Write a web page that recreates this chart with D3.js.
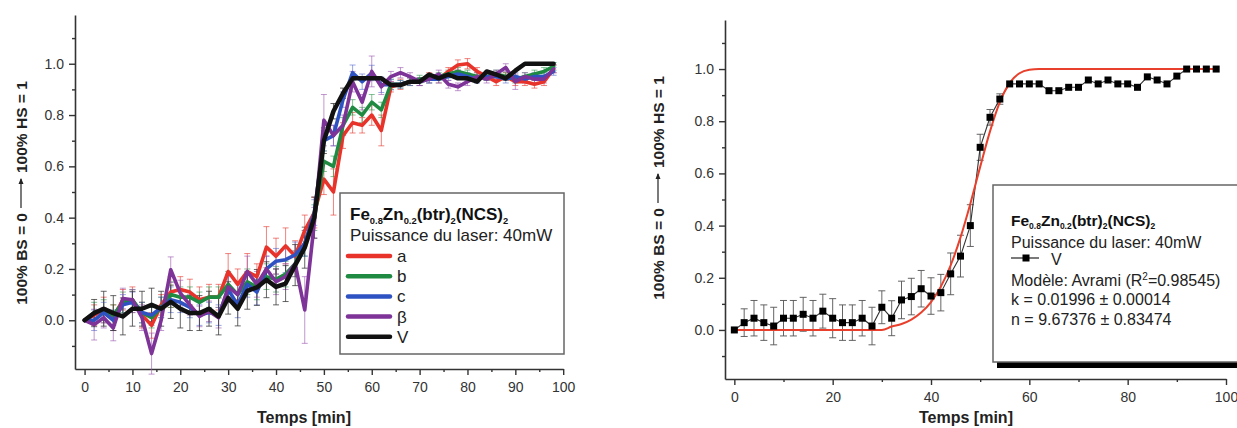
<!DOCTYPE html>
<html><head><meta charset="utf-8">
<script src="https://cdn.jsdelivr.net/npm/d3@7"></script>
<style>
body{margin:0;background:#fff}
svg{display:block}
text{font-family:"Liberation Sans",Arial,Helvetica,sans-serif}
</style>
</head><body>
<svg id="c" width="1237" height="428"></svg>
<script>
// ---------- DATA ----------
const time = [0,2,4,6,8,10,12,14,16,18,20,22,24,26,28,30,32,34,36,38,40,42,44,46,48,50,52,54,56,58,60,62,64,66,68,70,72,74,76,78,80,82,84,86,88,90,92,94,96,98];

const serA = [0,0.02,0.04,0.01,0.08,0.08,0.02,-0.02,0.06,0.11, 0.12,0.11,0.08,0.09,0.09,0.19,0.14,0.19,0.17,0.285, 0.25,0.29,0.25,0.35,0.42,0.55,0.50,0.72,0.77,0.76, 0.80,0.74,0.91,0.92,0.93,0.93,0.95,0.94,0.97,0.995, 1.0,0.97,0.95,0.93,0.95,0.93,0.93,0.92,0.93,0.98];
const serB = [0,0.03,0.04,0.02,0.07,0.08,0.03,0.01,0.05,0.10, 0.09,0.09,0.07,0.09,0.09,0.14,0.10,0.15,0.13,0.17, 0.16,0.18,0.22,0.30,0.40,0.62,0.60,0.76,0.83,0.80, 0.85,0.82,0.92,0.92,0.93,0.94,0.94,0.95,0.96,0.97, 0.96,0.95,0.95,0.96,0.95,0.94,0.95,0.96,0.97,0.99];
const serC = [0,0.0,0.03,0.0,0.06,0.07,0.03,0.02,0.05,0.08, 0.07,0.05,0.02,0.03,0.02,0.12,0.06,0.14,0.11,0.20, 0.23,0.236,0.255,0.30,0.42,0.70,0.72,0.86,0.965,0.93, 0.964,0.918,0.918,0.92,0.93,0.93,0.94,0.94,0.95,0.96, 0.95,0.94,0.95,0.95,0.94,0.95,0.94,0.95,0.95,0.97];
const serBeta = [0,-0.017,0.01,-0.03,0.085,0.08,0.01,-0.13,0.0,0.197, 0.106,0.06,0.015,0.035,0.01,0.13,0.10,0.19,0.14,0.20, 0.15,0.17,0.22,0.04,0.38,0.78,0.72,0.76,0.93,0.85, 0.97,0.91,0.95,0.965,0.95,0.93,0.94,0.96,0.92,0.91, 0.93,0.95,0.94,0.96,0.985,0.93,0.95,0.94,0.94,0.98];
const serV = [0,0.028,0.045,0.028,0.015,0.045,0.045,0.06,0.045,0.072, 0.045,0.028,0.028,0.045,0.015,0.087,0.045,0.115,0.128,0.158, 0.13,0.143,0.215,0.283,0.40,0.70,0.815,0.885,0.943,0.943, 0.943,0.943,0.917,0.917,0.93,0.93,0.958,0.943,0.958,0.943, 0.943,0.93,0.97,0.958,0.943,0.973,1.0,1.0,1.0,1.0];

const errA = [0,0.04,0.05,0.05,0.04,0.05,0.05,0.05,0.04,0.06, 0.05,0.05,0.05,0.05,0.05,0.07,0.06,0.07,0.05,0.08, 0.07,0.07,0.06,0.06,0.06,0.06,0.09,0.05,0.04,0.03, 0.04,0.06,0.02,0.02,0.015,0.015,0.015,0.015,0.015,0.02, 0.02,0.015,0.015,0.015,0.015,0.015,0.015,0.015,0.015,0.015];
const errB = [0,0.04,0.04,0.04,0.04,0.04,0.04,0.04,0.04,0.05, 0.04,0.04,0.04,0.04,0.04,0.05,0.05,0.05,0.05,0.05, 0.05,0.05,0.05,0.05,0.05,0.04,0.04,0.03,0.03,0.03, 0.03,0.03,0.02,0.015,0.015,0.015,0.015,0.015,0.015,0.015, 0.015,0.015,0.015,0.015,0.015,0.015,0.015,0.015,0.015,0.015];
const errC = [0,0.04,0.04,0.04,0.04,0.04,0.04,0.04,0.04,0.05, 0.04,0.04,0.04,0.04,0.04,0.05,0.05,0.05,0.05,0.05, 0.05,0.05,0.05,0.05,0.05,0.04,0.04,0.03,0.03,0.03, 0.03,0.03,0.02,0.015,0.015,0.015,0.015,0.015,0.015,0.015, 0.015,0.015,0.015,0.015,0.015,0.015,0.015,0.015,0.015,0.015];
const errBeta = [0,0.06,0.04,0.05,0.04,0.04,0.05,0.08,0.04,0.05, 0.05,0.04,0.04,0.04,0.04,0.05,0.05,0.06,0.05,0.05, 0.05,0.05,0.05,0.13,0.06,0.10,0.04,0.04,0.04,0.03, 0.06,0.03,0.02,0.02,0.015,0.015,0.015,0.015,0.015,0.015, 0.015,0.015,0.015,0.015,0.015,0.03,0.015,0.015,0.015,0.015];
const errV = [0,0.053,0.068,0.068,0.072,0.068,0.068,0.065,0.068,0.065, 0.075,0.068,0.068,0.068,0.072,0.063,0.067,0.072,0.07,0.07, 0.07,0.07,0.08,0.08,0.08,0.05,0.03,0.02,0,0, 0,0,0,0,0,0,0,0,0,0, 0,0,0,0,0,0,0,0,0,0];

// Avrami fit curve values (right panel)
const fitTime = [0,2,4,6,8,10,12,14,16,18,20,22,24,26,28,30,32,34,36,38,40,42,44,46,48,50,52,54,56,58,60,62,64,66,68,70,72,74,76,78,80,82,84,86,88,90,92,94,96,98];
const fitVal = [0,0,0,0,0,0,0,0,0,0, 0,0,0,0,0,0,0.013,0.023,0.04,0.067, 0.107,0.166,0.248,0.355,0.484,0.625,0.761,0.873,0.947,0.984, 0.997,1,1,1,1,1,1,1,1,1, 1,1,1,1,1,1,1,1,1,1];

const seriesNames = ["a","b","c","β","V"];
const seriesColors = ["#e8332b","#1f8a42","#2f52c2","#7d3397","#111111"];
const errColors = ["#e8332b","#2e9a4e","#5a6fd0","#9a56b0","#333333"];

const yMajorTicks = [0,0.2,0.4,0.6,0.8,1.0];
const yMinorTicks = [-0.1,0.1,0.3,0.5,0.7,0.9,1.1];
const xMajorLeft = [0,10,20,30,40,50,60,70,80,90,100];
const xMinorLeft = [5,15,25,35,45,55,65,75,85,95];
const xMajorRight = [0,20,40,60,80,100];
const xMinorRight = [10,30,50,70,90];

const yTitle1 = "100% BS = 0";
const yTitle2 = "100% HS = 1";
const xTitle = "Temps [min]";
const legTitleParts = [["Fe",0],["0.8",1],["Zn",0],["0.2",1],["(btr)",0],["2",1],["(NCS)",0],["2",1]];
const legPower = "Puissance du laser: 40mW";
const fitLines = ["k = 0.01996 ± 0.00014","n = 9.67376 ± 0.83474"];

// ---------- DRAW ----------
const svg = d3.select("#c");
svg.append("rect").attr("width",1237).attr("height",428).attr("fill","#fff");
const AX = "#333";

function axes(x, y, xMaj, xMin, yMaj, yMin, xFmt) {
  const g = svg.append("g");
  const x0 = x.range()[0], yb = y.range()[0];
  g.append("g").attr("transform",`translate(${x0},0)`)
    .call(d3.axisLeft(y).tickValues(yMaj).tickFormat(d3.format(".1f")).tickSize(6).tickPadding(5).tickSizeOuter(0));
  g.append("g").attr("transform",`translate(${x0},0)`)
    .call(d3.axisLeft(y).tickValues(yMin).tickFormat("").tickSize(3).tickSizeOuter(0)).select(".domain").remove();
  g.append("g").attr("transform",`translate(0,${yb})`)
    .call(d3.axisBottom(x).tickValues(xMaj).tickFormat(xFmt).tickSize(6).tickPadding(7).tickSizeOuter(0));
  g.append("g").attr("transform",`translate(0,${yb})`)
    .call(d3.axisBottom(x).tickValues(xMin).tickFormat("").tickSize(3).tickSizeOuter(0)).select(".domain").remove();
  g.selectAll(".domain").attr("stroke",AX).attr("stroke-width",1.6);
  g.selectAll(".tick line").attr("stroke",AX).attr("stroke-width",1.4);
  g.selectAll(".tick text").attr("fill","#333").attr("font-size",14)
    .attr("font-family","'Liberation Sans',Arial,sans-serif");
}

function yTitle(cx, cy) {
  const g = svg.append("g").attr("transform",`translate(${cx},${cy}) rotate(-90)`);
  const fs = 15.5;
  const t1 = g.append("text").attr("font-size",fs).attr("font-weight","bold").attr("fill","#222").text(yTitle1);
  const t2 = g.append("text").attr("font-size",fs).attr("font-weight","bold").attr("fill","#222").text(yTitle2);
  const w1 = t1.node().getComputedTextLength(), w2 = t2.node().getComputedTextLength();
  const gap = 5, arrow = 30;
  const total = w1 + gap + arrow + gap + w2;
  const s = -total/2;
  t1.attr("x", s).attr("y", 5.5);
  const ax0 = s + w1 + gap, ax1 = ax0 + arrow;
  g.append("line").attr("x1",ax0).attr("x2",ax1-1).attr("y1",0).attr("y2",0).attr("stroke","#222").attr("stroke-width",1.2);
  g.append("path").attr("d",`M${ax1},0 L${ax1-6},-2.5 L${ax1-6},2.5 Z`).attr("fill","#222");
  t2.attr("x", ax1 + gap).attr("y", 5.5);
}

function errBars(g, x, y, vals, errs, color, cap, op) {
  vals.forEach((v,i) => {
    const e = errs[i];
    if (!e) return;
    const xx = x(time[i]), y1 = y(v+e), y2 = y(v-e);
    g.append("line").attr("x1",xx).attr("x2",xx).attr("y1",y1).attr("y2",y2).attr("stroke",color).attr("stroke-width",1).attr("opacity",op);
    g.append("line").attr("x1",xx-cap).attr("x2",xx+cap).attr("y1",y1).attr("y2",y1).attr("stroke",color).attr("stroke-width",1).attr("opacity",op);
    g.append("line").attr("x1",xx-cap).attr("x2",xx+cap).attr("y1",y2).attr("y2",y2).attr("stroke",color).attr("stroke-width",1).attr("opacity",op);
  });
}

function formula(g, x, y, fs, subDy) {
  const t = g.append("text").attr("x",x).attr("y",y).attr("font-size",fs).attr("font-weight","bold").attr("fill","#111");
  let prevSub = 0;
  legTitleParts.forEach(([s,sub]) => {
    const ts = t.append("tspan").text(s);
    if (sub) ts.attr("font-size",fs*0.55);
    const dy = (sub - prevSub) * subDy;
    if (dy) ts.attr("dy",dy);
    prevSub = sub;
  });
}

// ===== LEFT PANEL =====
const xL = d3.scaleLinear().domain([-2,100]).range([75,563.2]);
const yL = d3.scaleLinear().domain([-0.19,1.19]).range([369,15]);
axes(xL, yL, xMajorLeft, xMinorLeft, yMajorTicks, yMinorTicks, d3.format("d"));

const allSer = [serA, serB, serC, serBeta, serV];
const allErr = [errA, errB, errC, errBeta, errV];
const gE = svg.append("g");
allSer.forEach((s,k) => errBars(gE, xL, yL, s, allErr[k], errColors[k], 3, k===4?0.75:0.6));
const lineL = d3.line().x((d,i)=>xL(time[i])).y(d=>yL(d));
allSer.forEach((s,k) => {
  svg.append("path").datum(s).attr("d",lineL).attr("fill","none")
    .attr("stroke",seriesColors[k]).attr("stroke-width",k===4?4.5:3.6)
    .attr("stroke-linejoin","round").attr("stroke-linecap","round");
});

// left legend
const lgL = svg.append("g");
lgL.append("rect").attr("x",340).attr("y",193).attr("width",224).attr("height",161)
  .attr("fill","#fff").attr("stroke","#666").attr("stroke-width",1.5);
formula(lgL, 350, 220, 17, 3.5);
lgL.append("text").attr("x",350).attr("y",241).attr("font-size",17).attr("fill","#222").text(legPower);
seriesNames.forEach((n,k) => {
  const cy = 256 + k*20.2;
  lgL.append("line").attr("x1",348).attr("x2",390).attr("y1",cy).attr("y2",cy)
    .attr("stroke",seriesColors[k]).attr("stroke-width",4.5).attr("stroke-linecap","round");
  lgL.append("text").attr("x",397).attr("y",cy+6).attr("font-size",17).attr("fill","#222").text(n);
});

yTitle(21, 193);
svg.append("text").attr("x",304).attr("y",423).attr("text-anchor","middle").attr("font-size",16)
  .attr("font-weight","bold").attr("fill","#222").text(xTitle);

// ===== RIGHT PANEL =====
const xR = d3.scaleLinear().domain([-1.9,100]).range([725,1226]);
const yR = d3.scaleLinear().domain([-0.188,1.188]).range([379,20]);
axes(xR, yR, xMajorRight, xMinorRight, yMajorTicks, yMinorTicks, d3.format("d"));

const gER = svg.append("g");
errBars(gER, xR, yR, serV, errV, "#555", 3.5, 0.9);
const lineR = d3.line().x((d,i)=>xR(time[i])).y(d=>yR(d));
svg.append("path").datum(serV).attr("d",lineR).attr("fill","none").attr("stroke","#333").attr("stroke-width",1.1);
const fitLine = d3.line().x((d,i)=>xR(fitTime[i])).y(d=>yR(d)).curve(d3.curveMonotoneX);
svg.append("path").datum(fitVal).attr("d",fitLine).attr("fill","none").attr("stroke","#e8402c").attr("stroke-width",2);
svg.append("g").selectAll("rect").data(serV).join("rect")
  .attr("x",(d,i)=>xR(time[i])-3.5).attr("y",d=>yR(d)-3.5).attr("width",7).attr("height",7).attr("fill","#000");

// right legend
const lgR = svg.append("g");
lgR.append("rect").attr("x",997).attr("y",362).attr("width",260).attr("height",6).attr("fill","#000");
lgR.append("rect").attr("x",993).attr("y",185).attr("width",260).attr("height",177)
  .attr("fill","#fff").attr("stroke","#666").attr("stroke-width",1.5);
formula(lgR, 1011, 226, 15.5, 3);
lgR.append("text").attr("x",1011).attr("y",248).attr("font-size",16).attr("fill","#222").text(legPower);
lgR.append("line").attr("x1",1011).attr("x2",1039).attr("y1",258).attr("y2",258).attr("stroke","#222").attr("stroke-width",1.2);
lgR.append("rect").attr("x",1022.5).attr("y",254.5).attr("width",7).attr("height",7).attr("fill","#000");
lgR.append("text").attr("x",1051).attr("y",265).attr("font-size",16).attr("fill","#222").text("V");
const mt = lgR.append("text").attr("x",1011).attr("y",286).attr("font-size",16).attr("fill","#222");
mt.append("tspan").text("Modèle: Avrami (R");
mt.append("tspan").attr("font-size",10).attr("dy",-6).text("2");
mt.append("tspan").attr("dy",6).text("=0.98545)");
fitLines.forEach((s,k) => {
  lgR.append("text").attr("x",1011).attr("y",305+k*20).attr("font-size",16).attr("fill","#222").text(s);
});

yTitle(658, 188);
svg.append("text").attr("x",966).attr("y",423).attr("text-anchor","middle").attr("font-size",16)
  .attr("font-weight","bold").attr("fill","#222").text(xTitle);
</script>
</body></html>
